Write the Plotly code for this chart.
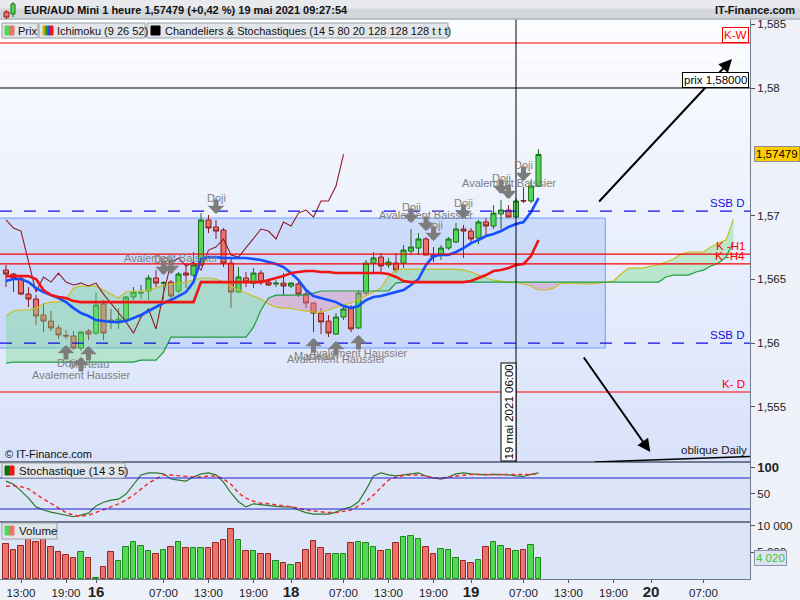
import plotly.graph_objects as go
from plotly.subplots import make_subplots

# Bougies EUR/AUD Mini 1 heure (index = rang de la bougie, 14 mai 12:00 -> 19 mai 09:00)
opens = [1.56572, 1.56541, 1.56502, 1.56384, 1.56345, 1.56220, 1.56172, 1.56118, 1.56060, 1.56055,
         1.55961, 1.56094, 1.56078, 1.56306, 1.56180, 1.56157, 1.56188, 1.56361, 1.56392, 1.56408,
         1.56510, 1.56470, 1.56478, 1.56408, 1.56549, 1.56533, 1.56612, 1.56965, 1.56910, 1.56886,
         1.56627, 1.56400, 1.56510, 1.56470, 1.56549, 1.56478, 1.56463, 1.56470, 1.56447, 1.56463,
         1.56384, 1.56314, 1.56235, 1.56172, 1.56070, 1.56204, 1.56274, 1.56118, 1.56392, 1.56627,
         1.56674, 1.56612, 1.56627, 1.56627, 1.56721, 1.56745, 1.56816, 1.56690, 1.56690, 1.56745,
         1.56792, 1.56894, 1.56878, 1.56823, 1.56949, 1.56918, 1.57012, 1.57043, 1.56988, 1.57118,
         1.57114, 1.57231]
highs = [1.56612, 1.56549, 1.56518, 1.56439, 1.56376, 1.56314, 1.56251, 1.56141, 1.56102, 1.56094,
         1.56094, 1.56110, 1.56400, 1.56337, 1.56267, 1.56274, 1.56369, 1.56439, 1.56455, 1.56533,
         1.56572, 1.56486, 1.56494, 1.56557, 1.56627, 1.56714, 1.57019, 1.57004, 1.56965, 1.56902,
         1.56667, 1.56596, 1.56557, 1.56588, 1.56572, 1.56494, 1.56494, 1.56549, 1.56478, 1.56478,
         1.56416, 1.56321, 1.56274, 1.56220, 1.56235, 1.56282, 1.56298, 1.56416, 1.56651, 1.56714,
         1.56706, 1.56667, 1.56706, 1.56769, 1.56894, 1.56863, 1.56831, 1.56753, 1.56769, 1.56831,
         1.56941, 1.56925, 1.56902, 1.56965, 1.56980, 1.57082, 1.57121, 1.57082, 1.57137, 1.57223,
         1.57278, 1.57521]
lows = [1.56439, 1.56400, 1.56376, 1.56282, 1.56141, 1.56086, 1.56094, 1.56031, 1.56031, 1.55945,
        1.55937, 1.56023, 1.56063, 1.56023, 1.56110, 1.56110, 1.56180, 1.56337, 1.56345, 1.56337,
        1.56439, 1.56337, 1.56337, 1.56392, 1.56431, 1.56518, 1.56604, 1.56863, 1.56816, 1.56596,
        1.56274, 1.56392, 1.56439, 1.56431, 1.56455, 1.56447, 1.56439, 1.56376, 1.56431, 1.56361,
        1.56274, 1.56086, 1.56070, 1.56047, 1.56063, 1.56180, 1.56086, 1.56110, 1.56376, 1.56549,
        1.56549, 1.56588, 1.56549, 1.56588, 1.56690, 1.56690, 1.56690, 1.56635, 1.56651, 1.56729,
        1.56784, 1.56667, 1.56792, 1.56776, 1.56839, 1.56894, 1.56894, 1.56988, 1.56980, 1.57098,
        1.57098, 1.57223]
closes = [1.56541, 1.56510, 1.56384, 1.56345, 1.56212, 1.56172, 1.56118, 1.56063, 1.56055, 1.55961,
          1.56086, 1.56070, 1.56298, 1.56078, 1.56165, 1.56188, 1.56361, 1.56400, 1.56395, 1.56510,
          1.56470, 1.56472, 1.56369, 1.56541, 1.56533, 1.56612, 1.56965, 1.56902, 1.56878, 1.56627,
          1.56400, 1.56518, 1.56478, 1.56549, 1.56478, 1.56455, 1.56470, 1.56447, 1.56470, 1.56384,
          1.56314, 1.56235, 1.56165, 1.56078, 1.56204, 1.56267, 1.56110, 1.56392, 1.56627, 1.56667,
          1.56604, 1.56635, 1.56572, 1.56729, 1.56753, 1.56816, 1.56690, 1.56674, 1.56745, 1.56816,
          1.56894, 1.56878, 1.56816, 1.56949, 1.56918, 1.57019, 1.57043, 1.56988, 1.57114, 1.57114,
          1.57231, 1.57479]
volumes = [6640, 5380, 6270, 8000, 7020, 7820, 6080, 5140, 4580, 4020,
           5140, 4020, 130, 2330, 5140, 3450, 6080, 7020, 6270, 5330,
           4770, 5520, 6080, 7020, 5890, 5890, 5890, 5890, 6830, 7390,
           9460, 7390, 5330, 5330, 4770, 4770, 3450, 3080, 2700, 3080,
           5520, 7200, 5890, 4770, 4770, 4770, 6830, 7020, 6830, 6080,
           5330, 5520, 6830, 7880, 8070, 7580, 6000, 4770, 5700, 5520,
           4020, 3450, 3080, 3640, 6080, 7020, 6270, 5700, 5330, 5520,
           6450, 4020]

# Ichimoku (9 26 52)
tenkan = [1.56486, 1.56502, 1.56502, 1.56478, 1.56431, 1.56400, 1.56376, 1.56353, 1.56321, 1.56274,
          1.56235, 1.56212, 1.56180, 1.56172, 1.56165, 1.56165, 1.56172, 1.56196, 1.56220, 1.56251,
          1.56282, 1.56314, 1.56337, 1.56369, 1.56400, 1.56478, 1.56659, 1.56674, 1.56674, 1.56667,
          1.56667, 1.56667, 1.56667, 1.56659, 1.56651, 1.56635, 1.56620, 1.56596, 1.56549, 1.56494,
          1.56416, 1.56369, 1.56353, 1.56337, 1.56321, 1.56290, 1.56274, 1.56290, 1.56337, 1.56361,
          1.56369, 1.56384, 1.56400, 1.56416, 1.56455, 1.56502, 1.56612, 1.56682, 1.56690, 1.56690,
          1.56714, 1.56745, 1.56784, 1.56808, 1.56839, 1.56855, 1.56878, 1.56910, 1.56933, 1.56949,
          1.57027, 1.57137]
kijun = [1.56525, 1.56525, 1.56525, 1.56525, 1.56502, 1.56416, 1.56376, 1.56361, 1.56353, 1.56329,
         1.56321, 1.56321, 1.56321, 1.56321, 1.56321, 1.56321, 1.56321, 1.56321, 1.56321, 1.56321,
         1.56321, 1.56321, 1.56321, 1.56321, 1.56321, 1.56321, 1.56478, 1.56478, 1.56478, 1.56478,
         1.56478, 1.56478, 1.56478, 1.56478, 1.56478, 1.56494, 1.56510, 1.56525, 1.56549, 1.56557,
         1.56565, 1.56565, 1.56557, 1.56557, 1.56549, 1.56549, 1.56549, 1.56549, 1.56549, 1.56549,
         1.56549, 1.56541, 1.56518, 1.56486, 1.56478, 1.56478, 1.56478, 1.56478, 1.56478, 1.56478,
         1.56478, 1.56478, 1.56486, 1.56510, 1.56533, 1.56565, 1.56572, 1.56588, 1.56612, 1.56620,
         1.56682, 1.56808]
ssa = [1.56212, 1.56251, 1.56259, 1.56259, 1.56274, 1.56306, 1.56321, 1.56321, 1.56345, 1.56431,
       1.56447, 1.56447, 1.56447, 1.56416, 1.56384, 1.56353, 1.56400, 1.56408, 1.56408, 1.56416,
       1.56431, 1.56455, 1.56463, 1.56470, 1.56478, 1.56494, 1.56510, 1.56510, 1.56502, 1.56478,
       1.56447, 1.56416, 1.56392, 1.56369, 1.56345, 1.56306, 1.56282, 1.56274, 1.56274, 1.56259,
       1.56251, 1.56243, 1.56243, 1.56259, 1.56282, 1.56298, 1.56314, 1.56337, 1.56369, 1.56400,
       1.56431, 1.56525, 1.56572, 1.56580, 1.56580, 1.56580, 1.56580, 1.56580, 1.56580, 1.56580,
       1.56580, 1.56572, 1.56557, 1.56533, 1.56510, 1.56494, 1.56486, 1.56478, 1.56478, 1.56463,
       1.56447, 1.56416, 1.56416, 1.56431, 1.56470, 1.56470, 1.56470, 1.56463, 1.56463, 1.56470,
       1.56478, 1.56486, 1.56541, 1.56588, 1.56588, 1.56588, 1.56604, 1.56612, 1.56635, 1.56659,
       1.56698, 1.56714, 1.56714, 1.56714, 1.56753, 1.56784, 1.56808, 1.56972]
ssb = [1.55843, 1.55851, 1.55851, 1.55851, 1.55851, 1.55851, 1.55851, 1.55851, 1.55851, 1.55851,
       1.55851, 1.55851, 1.55851, 1.55851, 1.55851, 1.55851, 1.55851, 1.55851, 1.55866, 1.55866,
       1.55866, 1.55929, 1.56047, 1.56047, 1.56047, 1.56047, 1.56047, 1.56047, 1.56047, 1.56047,
       1.56047, 1.56047, 1.56047, 1.56125, 1.56259, 1.56353, 1.56376, 1.56376, 1.56376, 1.56376,
       1.56376, 1.56392, 1.56408, 1.56408, 1.56408, 1.56408, 1.56408, 1.56408, 1.56408, 1.56408,
       1.56408, 1.56408, 1.56470, 1.56478, 1.56478, 1.56478, 1.56478, 1.56478, 1.56478, 1.56478,
       1.56478, 1.56478, 1.56478, 1.56478, 1.56478, 1.56478, 1.56478, 1.56478, 1.56478, 1.56478,
       1.56478, 1.56478, 1.56478, 1.56478, 1.56478, 1.56478, 1.56478, 1.56478, 1.56478, 1.56478,
       1.56478, 1.56478, 1.56478, 1.56478, 1.56478, 1.56478, 1.56478, 1.56478, 1.56518, 1.56533,
       1.56533, 1.56533, 1.56557, 1.56572, 1.56604, 1.56627, 1.56674, 1.56792]

# Stochastique (14 3 5)
stoch_k = [74, 68, 55, 41, 24, 18, 14, 11, 8, 5, 8, 12, 26, 33, 37, 39, 49, 68, 86, 90,
           90, 88, 78, 76, 74, 82, 88, 90, 86, 72, 51, 34, 24, 30, 28, 27, 25, 24, 24, 18,
           13, 10, 10, 10, 14, 20, 24, 34, 57, 84, 90, 86, 84, 86, 88, 90, 84, 80, 78, 82,
           88, 90, 88, 87, 86, 87, 87, 86, 84, 83, 87, 90]
stoch_d = [64, 65, 63, 59, 49, 39, 31, 22, 13, 8, 6, 8, 13, 18, 24, 30, 37, 47, 59, 70,
           78, 86, 86, 84, 83, 82, 82, 84, 84, 78, 68, 51, 41, 35, 31, 30, 28, 26, 25, 22,
           18, 16, 15, 13, 13, 16, 18, 26, 34, 47, 61, 76, 82, 85, 86, 86, 84, 80, 80, 82,
           84, 86, 87, 87, 87, 87, 87, 87, 86, 86, 87, 88]

# Figures de chandeliers detectees
pattern_idx = [8, 10, 11, 21, 22, 28, 41, 44, 47, 54, 56, 57, 61, 66, 67, 69]
pattern_name = ["Doji", "Avalement Haussier", "Marteau", "Doji", "Avalement Baissier", "Doji",
                "Marteau", "Avalement Haussier", "Avalement Haussier", "Doji", "Avalement Baissier",
                "Doji", "Doji", "Doji", "Avalement Baissier", "Doji"]
pattern_up = [True, True, True, False, False, False, True, True, True,
              False, False, False, False, False, False, False]

# Niveaux traces
level_names = ["K-W", "prix 1,58000", "SSB D", "K -H1", "K -H4", "SSB D", "K- D"]
level_prices = [1.58353, 1.58000, 1.57035, 1.56698, 1.56620, 1.56000, 1.55616]

# Axes
price_ticks = [1.555, 1.56, 1.565, 1.57, 1.58, 1.585]
price_labels = ["1,555", "1,56", "1,565", "1,57", "1,58", "1,585"]
time_ticks = [2, 8, 12, 21, 27, 33, 38, 45, 51, 57, 62, 69, 75, 81, 86, 93]
time_labels = ["13:00", "19:00", "16", "07:00", "13:00", "19:00", "18", "07:00", "13:00",
               "19:00", "19", "07:00", "13:00", "19:00", "20", "07:00"]
day_labels = {"16", "18", "19", "20"}

FONT = "Liberation Sans, Arial, sans-serif"
x_c = list(range(len(closes)))
x_cloud = list(range(len(ssa)))
chikou = closes[26:]   # cloture decalee de 26 periodes
x_chikou = list(range(len(chikou)))

fig = make_subplots(rows=3, cols=1, shared_xaxes=True, vertical_spacing=0,
                    row_heights=[444, 60, 57])


# nuage : polygones entre SSA et SSB, coupes aux croisements
def cloud_segments(a, b):
    pts = [(0, a[0], b[0])]
    for i in range(1, len(a)):
        d0, d1 = a[i - 1] - b[i - 1], a[i] - b[i]
        if d0 * d1 < 0:
            t = d0 / (d0 - d1)
            yc = a[i - 1] + t * (a[i] - a[i - 1])
            pts.append((i - 1 + t, yc, yc))
        pts.append((i, a[i], b[i]))
    segs, cur = [], [pts[0]]
    for p in pts[1:]:
        cur.append(p)
        if abs(p[1] - p[2]) < 1e-9:
            segs.append(cur)
            cur = [p]
    segs.append(cur)
    return segs


for seg in cloud_segments(ssa, ssb):
    diff = sum(p[1] - p[2] for p in seg)
    if len(seg) < 2 or abs(diff) < 1e-9:
        continue
    col = "rgba(120,220,140,0.40)" if diff > 0 else "rgba(230,140,175,0.40)"
    xs = [p[0] for p in seg] + [p[0] for p in reversed(seg)]
    ys = [p[1] for p in seg] + [p[2] for p in reversed(seg)]
    fig.add_trace(go.Scatter(x=xs, y=ys, fill="toself", fillcolor=col, mode="none",
                             hoverinfo="skip"), row=1, col=1)

fig.add_trace(go.Scatter(x=x_cloud, y=ssa, mode="lines", line=dict(color="#C8C01E", width=1.2)),
              row=1, col=1)
fig.add_trace(go.Scatter(x=x_cloud, y=ssb, mode="lines", line=dict(color="#1E9E3C", width=1.2)),
              row=1, col=1)

fig.add_trace(go.Candlestick(
    x=x_c, open=opens, high=highs, low=lows, close=closes,
    increasing=dict(line=dict(color="#1B6E1B", width=1), fillcolor="#56D656"),
    decreasing=dict(line=dict(color="#8C1C1C", width=1), fillcolor="#E8746C"),
    whiskerwidth=0), row=1, col=1)

fig.add_trace(go.Scatter(x=x_chikou, y=chikou, mode="lines", line=dict(color="#8E1A28", width=1.1)),
              row=1, col=1)
fig.add_trace(go.Scatter(x=x_c, y=tenkan, mode="lines", line=dict(color="#1450FF", width=2.6)),
              row=1, col=1)
fig.add_trace(go.Scatter(x=x_c, y=kijun, mode="lines", line=dict(color="#F01414", width=2.6)),
              row=1, col=1)

# stochastique
fig.add_trace(go.Scatter(x=x_c, y=stoch_k, mode="lines", line=dict(color="#2B7A2B", width=1.2)),
              row=2, col=1)
fig.add_trace(go.Scatter(x=x_c, y=stoch_d, mode="lines",
                         line=dict(color="#F03030", width=1.5, dash="4px,3px")), row=2, col=1)

# volume
up = [c >= o for o, c in zip(opens, closes)]
fig.add_trace(go.Bar(x=x_c, y=volumes, width=0.72,
                     marker=dict(color=["#55D955" if u else "#E8746C" for u in up],
                                 line=dict(color=["#1E8A1E" if u else "#9A2424" for u in up], width=1))),
              row=3, col=1)

# ---- placement en pixels pour l'habillage
def px(X):
    return X / 750.0


def py(Y):
    return (579.0 - Y) / 561.0


shapes = []
annots = []

# degrade de fond du panneau principal
top_c, bot_c = (252, 253, 255), (216, 226, 250)
n = 30
for k in range(n):
    t = (k + 0.5) / n
    c = tuple(int(round(top_c[j] + (bot_c[j] - top_c[j]) * t)) for j in range(3))
    shapes.append(dict(type="rect", xref="x domain", yref="y domain", x0=0, x1=1,
                       y0=1 - (k + 1) / n, y1=1 - k / n, fillcolor="rgb(%d,%d,%d)" % c,
                       line=dict(width=0), layer="below"))

# rectangle bleu
shapes.append(dict(type="rect", xref="x", yref="y", x0=-3, x1=79.9, y0=1.55961, y1=1.56980,
                   fillcolor="rgba(170,195,250,0.45)", line=dict(color="#6E9CFF", width=1),
                   layer="below"))

# niveaux horizontaux
level_style = [("#FF0000", "solid"), ("#000000", "solid"), ("#1010E0", "12px,12px"),
               ("#FF0000", "solid"), ("#FF0000", "solid"), ("#1010E0", "12px,12px"),
               ("#FF0000", "solid")]
for p, (col, dash) in zip(level_prices, level_style):
    shapes.append(dict(type="line", xref="x domain", yref="y", x0=0, x1=1, y0=p, y1=p,
                       line=dict(color=col, width=1.2, dash=dash), layer="above"))

# croisement vertical
shapes.append(dict(type="line", xref="x", yref="y domain", x0=68, x1=68, y0=0, y1=1,
                   line=dict(color="black", width=1), layer="above"))

# oblique Daily
shapes.append(dict(type="line", xref="x", yref="y", x0=78.5, x1=99.2, y0=1.55067, y1=1.55110,
                   line=dict(color="black", width=1.5), layer="above"))

# stochastique 80 / 20
for lv in (80, 20):
    shapes.append(dict(type="line", xref="x2 domain", yref="y2", x0=0, x1=1, y0=lv, y1=lv,
                       line=dict(color="#2020D0", width=1.2), layer="above"))


def box(x0, y0, x1, y1, fill, line="#9AA0A8"):
    shapes.append(dict(type="rect", xref="paper", yref="paper", x0=px(x0), x1=px(x1),
                       y0=py(y1), y1=py(y0), fillcolor=fill, line=dict(color=line, width=1),
                       layer="above"))


def text(x, y, s, size=11, color="#111111", xanchor="left", **kw):
    annots.append(dict(xref="paper", yref="paper", x=px(x), y=py(y), text=s, showarrow=False,
                       xanchor=xanchor, yanchor="middle",
                       font=dict(family=FONT, size=size, color=color), **kw))


# fleches de projection (sous les etiquettes)
annots.append(dict(xref="x", yref="y", axref="x", ayref="y", x=96.8, y=1.58227, ax=78.9,
                   ay=1.57098, text="", showarrow=True, arrowhead=2, arrowsize=1.3,
                   arrowwidth=2, arrowcolor="black"))
annots.append(dict(xref="x", yref="y", axref="x", ayref="y", x=85.9, y=1.55145, ax=76.9,
                   ay=1.55898, text="", showarrow=True, arrowhead=2, arrowsize=1.3,
                   arrowwidth=2, arrowcolor="black"))

# bandeau titre
box(-1, -1, 801, 10, "#E9EAED", "#E9EAED")
box(-1, 9, 801, 19, "#D3D6DB", "#D3D6DB")
shapes.append(dict(type="line", xref="paper", yref="paper", x0=0, x1=px(800), y0=py(19),
                   y1=py(19), line=dict(color="#9CA2AA", width=1), layer="above"))
shapes.append(dict(type="line", xref="paper", yref="paper", x0=px(6.5), x1=px(6.5), y0=py(19),
                   y1=py(10), line=dict(color="#8C1C1C", width=1), layer="above"))
box(4, 12, 9, 17, "#E8746C", "#8C1C1C")
shapes.append(dict(type="line", xref="paper", yref="paper", x0=px(13), x1=px(13), y0=py(17),
                   y1=py(2), line=dict(color="#1B6E1B", width=1), layer="above"))
box(11, 4, 15, 14, "#56D656", "#1B6E1B")
text(22, 9.5, "<b>EUR/AUD Mini 1 heure 1,57479 (+0,42 %) 19 mai 2021 09:27:54</b>", size=11)
text(797, 9.5, "<b>IT-Finance.com</b>", size=11, xanchor="right")

# legende
box(2, 23, 38, 38, "#E2E5EA")
box(5, 26, 9.5, 35, "#56D656", "#56D656")
box(9.5, 26, 14, 35, "#E8746C", "#E8746C")
text(16, 30.5, "Prix")
box(39, 23, 145, 38, "#E2E5EA")
for k, c in enumerate(["#C8B400", "#1E9E3C", "#1450FF", "#F01414"]):
    box(43 + 2.5 * k, 26, 45.5 + 2.5 * k, 35, c, c)
text(55, 30.5, "Ichimoku (9 26 52)")
box(147, 23, 448, 38, "#E2E5EA")
box(151, 26, 160, 35, "#000000", "#000000")
text(163, 30.5, "Chandeliers & Stochastiques (14 5 80 20 128 128 128 t t t)")

# panneaux bas
text(3, 454, "© IT-Finance.com")
box(2, 463, 125, 478, "#E2E5EA")
box(5, 466, 9.5, 475, "#0E6E0E", "#0E6E0E")
box(9.5, 466, 14, 475, "#F01414", "#F01414")
text(17, 470.5, "Stochastique (14 3 5)", size=11.5)
box(2, 523, 57, 539, "#E2E5EA")
box(5, 526, 9.5, 535, "#56D656", "#56D656")
box(9.5, 526, 14, 535, "#E8746C", "#E8746C")
text(17, 531, "Volume", size=11.5)

# etiquettes des niveaux
lab_colors = ["#FF0000", "#000000", "#1010E0", "#FF0000", "#FF0000", "#1010E0", "#FF0000"]
for k, (name, p, col) in enumerate(zip(level_names, level_prices, lab_colors)):
    a = dict(xref="paper", yref="y", x=px(747), y=p, text=name, showarrow=False,
             xanchor="right", yanchor="bottom", font=dict(family=FONT, size=11.5, color=col))
    if k == 0:
        a.update(bgcolor="white", bordercolor="#FF0000", borderwidth=1, borderpad=1, x=px(749))
    elif k == 1:
        a.update(bgcolor="white", bordercolor="#000000", borderwidth=1, borderpad=1, x=px(749))
    annots.append(a)

annots.append(dict(xref="paper", yref="y", x=px(754), y=closes[-1], text="1,57479",
                   showarrow=False, xanchor="left", yanchor="middle", bgcolor="#FFCC00",
                   bordercolor="#8A8F96", borderwidth=1, borderpad=1,
                   font=dict(family=FONT, size=11.5, color="black")))
annots.append(dict(xref="paper", yref="y3", x=px(754), y=volumes[-1],
                   text="{:,}".format(volumes[-1]).replace(",", " "), showarrow=False,
                   xanchor="left", yanchor="middle", bgcolor="#DCE3F5", bordercolor="#8A96A8",
                   borderwidth=1, borderpad=1, font=dict(family=FONT, size=11.5, color="#3CC83C")))

# date du curseur
annots.append(dict(xref="x", yref="y", x=68, y=1.55067, text="19 mai 2021 06:00", textangle=-90,
                   showarrow=False, xanchor="right", yanchor="bottom", bgcolor="white",
                   bordercolor="black", borderwidth=1, borderpad=1,
                   font=dict(family=FONT, size=11.5, color="black")))
text(749, 450, "oblique Daily", size=11.5, color="#222222", xanchor="right")

# figures de chandeliers : fleche grise + libelle
for i, name, is_up in zip(pattern_idx, pattern_name, pattern_up):
    yref_val = lows[i] if is_up else highs[i]
    annots.append(dict(xref="x", yref="y", x=i, y=yref_val, ax=0, ay=22 if is_up else -22,
                       text="", showarrow=True, arrowhead=1, arrowsize=0.55, arrowwidth=5,
                       arrowcolor="#7C7C7C", standoff=6, font=dict(size=1)))
    annots.append(dict(xref="x", yref="y", x=i, y=yref_val, yshift=-24 if is_up else 22,
                       text=name, showarrow=False,
                       font=dict(family=FONT, size=11, color="#808080")))

# axes
fig.update_xaxes(range=[-0.8, 99.2], showgrid=False, zeroline=False, showline=True, mirror=True,
                 linecolor="#6F7B8C", linewidth=1, rangeslider_visible=False)
fig.update_xaxes(tickmode="array", tickvals=time_ticks,
                 ticktext=["<b><span style='font-size:15px'>%s</span></b>" % t if t in day_labels else t
                           for t in time_labels],
                 ticks="outside", ticklen=3, tickcolor="#555",
                 tickfont=dict(family=FONT, size=11.5, color="#222222"), row=3, col=1)
yax = dict(showgrid=False, zeroline=False, side="right", showline=True, mirror=True,
           linecolor="#6F7B8C", ticks="outside", ticklen=4, tickcolor="#555",
           tickfont=dict(family=FONT, size=11.5, color="#222222"))
fig.update_yaxes(range=[1.55067, 1.58549], tickmode="array", tickvals=price_ticks,
                 ticktext=price_labels, row=1, col=1, **yax)
fig.update_yaxes(range=[-5.2, 111], tickmode="array", tickvals=[50, 100],
                 ticktext=["50", "<b><span style='font-size:13px'>100</span></b>"], row=2, col=1, **yax)
fig.update_yaxes(range=[0, 10700], tickmode="array", tickvals=[5000, 10000],
                 ticktext=["5 000", "10 000"], row=3, col=1, **yax)

fig.update_layout(
    width=800, height=600,
    margin=dict(l=0, r=50, t=18, b=21),
    plot_bgcolor="#DCE4F8", paper_bgcolor="#EEF1F8",
    showlegend=False, hovermode=False,
    boxgap=0.18, boxgroupgap=0.18, bargap=0,
    font=dict(family=FONT, size=11, color="#222222"),
    shapes=shapes, annotations=annots,
)

fig.write_html("out.html", config={"displayModeBar": False},
               post_script="document.body.style.margin='0';")
